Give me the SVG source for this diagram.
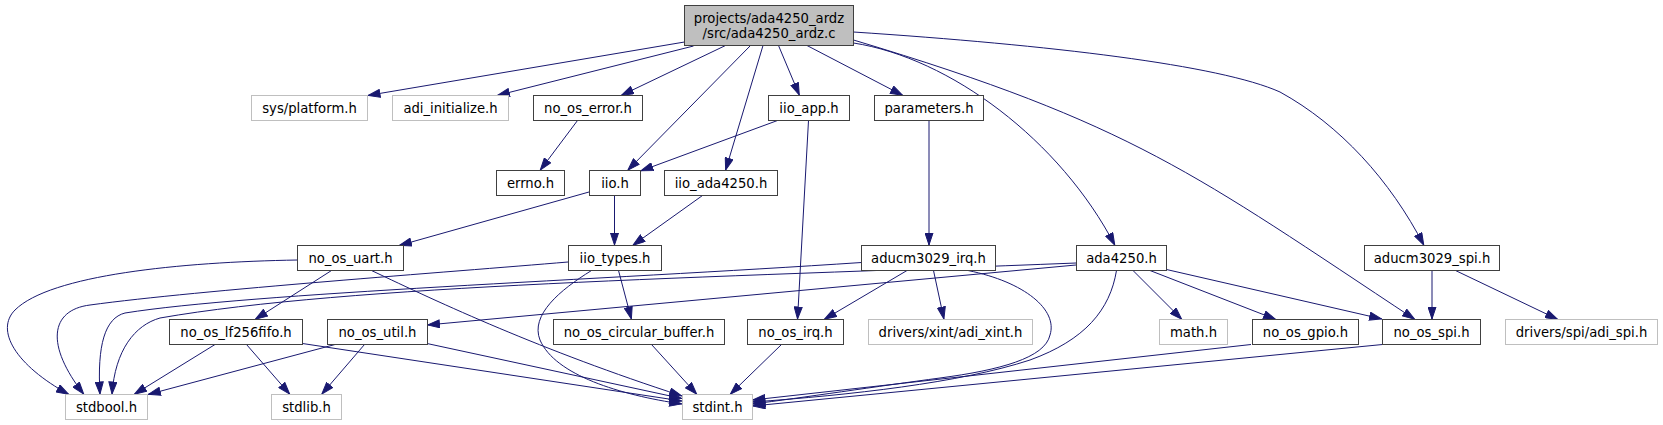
<svg xmlns="http://www.w3.org/2000/svg" width="1663" height="425" viewBox="0 0 1663 425">
<defs>
<style>
.n rect{fill:#ffffff;stroke:#404040;stroke-width:1}
.x rect{fill:#ffffff;stroke:#bfbfbf;stroke-width:1}
.m rect{fill:#bfbfbf;stroke:#404040;stroke-width:1}
text{font-family:"DejaVu Sans","Liberation Sans",sans-serif;font-size:13.2px;text-anchor:middle;fill:#000000}
#edges path{fill:none;stroke:#191970;stroke-width:1;marker-end:url(#ah)}
</style>
<marker id="ah" viewBox="0 0 13 9" refX="13" refY="4.5" markerWidth="13" markerHeight="9" markerUnits="userSpaceOnUse" orient="auto">
<path d="M0.5,0.5 L12.5,4.5 L0.5,8.5 z" fill="#191970" stroke="#191970" stroke-width="1"/>
</marker>
</defs>
<rect width="1663" height="425" fill="#ffffff"/>
<g id="edges">
<path d="M684.5,42 L367.5,95.5"/>
<path d="M693.5,46 L497,95.5"/>
<path d="M725.5,45.5 L621,95.5"/>
<path d="M750.5,45.5 L627.5,170.5"/>
<path d="M763,45.5 L725.5,170.5"/>
<path d="M778.5,45.5 L799.5,95.5"/>
<path d="M807,45.5 L903,95.5"/>
<path d="M853.5,43 C950,58 1060,140 1115,245.5"/>
<path d="M853.5,40 C1133.5,124 1195,174 1415,319.5"/>
<path d="M853.5,32 C1050,45 1220,65 1280,92 C1340,125 1390,180 1424,245.5"/>
<path d="M577.5,120.5 L540,170.5"/>
<path d="M777.5,120.5 L640.5,171"/>
<path d="M808.5,120.5 L797.5,319.5"/>
<path d="M929,120.5 L929,245.5"/>
<path d="M589,192 L399,245.5"/>
<path d="M614.5,195.5 L614.5,245.5"/>
<path d="M702.5,195.5 L632.5,245.5"/>
<path d="M297.5,260 C180,262 50,275 15,310 C-5,330 15,365 69,394.5"/>
<path d="M568,262 C450,272 200,290 90,305 C50,310 45,345 84,394.5"/>
<path d="M861.5,262.5 C600,280 250,293 125,313 C105,318 97,345 100,394.5"/>
<path d="M1076,263 C700,278 350,285 160,318 C135,325 115,350 112,394.5"/>
<path d="M1076,265 L427,325"/>
<path d="M331.5,270.5 L255,319.5"/>
<path d="M371.5,270.5 C440,303 540,350 682,396"/>
<path d="M302.5,343.5 L682,401"/>
<path d="M427,343.5 L682,398.5"/>
<path d="M591.5,270.5 C560,290 530,315 540,340 C555,375 620,395 682,404"/>
<path d="M968,270.5 C1025,282 1058,310 1050,335 C1045,358 1000,370 940,378 C880,386 800,398 752.5,404"/>
<path d="M1116.5,270.5 C1110,310 1085,340 1030,360 C960,383 850,395 752.5,402"/>
<path d="M1251,344.5 L752.5,400"/>
<path d="M1382.5,344.5 L752.5,406"/>
<path d="M651.5,344.5 L697,394.5"/>
<path d="M781.5,344.5 L730,394.5"/>
<path d="M215,344.5 L134,394.5"/>
<path d="M335,344.5 L148,394.5"/>
<path d="M364.5,344.5 L321.5,394.5"/>
<path d="M246.5,344.5 L290,394.5"/>
<path d="M618.5,270.5 L631.5,319.5"/>
<path d="M907,270.5 L824,319.5"/>
<path d="M933.5,270.5 L944,319.5"/>
<path d="M1133,270.5 L1182,319.5"/>
<path d="M1150,270.5 L1276,319.5"/>
<path d="M1166.5,269.5 L1382,319"/>
<path d="M1432,270.5 L1432,319.5"/>
<path d="M1455.5,270.5 L1558,319.5"/>
</g>
<g id="main" class="m"><rect x="684.5" y="5.5" width="169" height="40"/><text x="769" y="22.5">projects/ada4250_ardz</text><text x="769" y="37.5">/src/ada4250_ardz.c</text></g>
<g id="sys_platform" class="x"><rect x="251.5" y="95.5" width="116" height="25"/><text x="309.5" y="112.5">sys/platform.h</text></g>
<g id="adi_initialize" class="x"><rect x="392.5" y="95.5" width="116" height="25"/><text x="450.5" y="112.5">adi_initialize.h</text></g>
<g id="no_os_error" class="n"><rect x="533.5" y="95.5" width="109" height="25"/><text x="588" y="112.5">no_os_error.h</text></g>
<g id="iio_app" class="n"><rect x="768.5" y="95.5" width="81" height="25"/><text x="809" y="112.5">iio_app.h</text></g>
<g id="parameters" class="n"><rect x="874.5" y="95.5" width="109" height="25"/><text x="929" y="112.5">parameters.h</text></g>
<g id="errno" class="n"><rect x="496.5" y="170.5" width="68" height="25"/><text x="530.5" y="187.5">errno.h</text></g>
<g id="iio" class="n"><rect x="589.5" y="170.5" width="51" height="25"/><text x="615" y="187.5">iio.h</text></g>
<g id="iio_ada4250" class="n"><rect x="664.5" y="170.5" width="113" height="25"/><text x="721" y="187.5">iio_ada4250.h</text></g>
<g id="no_os_uart" class="n"><rect x="297.5" y="245.5" width="106" height="25"/><text x="350.5" y="262.5">no_os_uart.h</text></g>
<g id="iio_types" class="n"><rect x="568.5" y="245.5" width="93" height="25"/><text x="615" y="262.5">iio_types.h</text></g>
<g id="aducm3029_irq" class="n"><rect x="861.5" y="245.5" width="134" height="25"/><text x="928.5" y="262.5">aducm3029_irq.h</text></g>
<g id="ada4250" class="n"><rect x="1076.5" y="245.5" width="90" height="25"/><text x="1121.5" y="262.5">ada4250.h</text></g>
<g id="aducm3029_spi" class="n"><rect x="1364.5" y="245.5" width="135" height="25"/><text x="1432" y="262.5">aducm3029_spi.h</text></g>
<g id="no_os_lf256fifo" class="n"><rect x="169.5" y="319.5" width="133" height="25"/><text x="236" y="336.5">no_os_lf256fifo.h</text></g>
<g id="no_os_util" class="n"><rect x="327.5" y="319.5" width="100" height="25"/><text x="377.5" y="336.5">no_os_util.h</text></g>
<g id="no_os_circular_buffer" class="n"><rect x="553.5" y="319.5" width="171" height="25"/><text x="639" y="336.5">no_os_circular_buffer.h</text></g>
<g id="no_os_irq" class="n"><rect x="747.5" y="319.5" width="96" height="25"/><text x="795.5" y="336.5">no_os_irq.h</text></g>
<g id="adi_xint" class="x"><rect x="868.5" y="319.5" width="164" height="25"/><text x="950.5" y="336.5">drivers/xint/adi_xint.h</text></g>
<g id="math" class="x"><rect x="1159.5" y="319.5" width="68" height="25"/><text x="1193.5" y="336.5">math.h</text></g>
<g id="no_os_gpio" class="n"><rect x="1252.5" y="319.5" width="106" height="25"/><text x="1305.5" y="336.5">no_os_gpio.h</text></g>
<g id="no_os_spi" class="n"><rect x="1382.5" y="319.5" width="98" height="25"/><text x="1431.5" y="336.5">no_os_spi.h</text></g>
<g id="adi_spi" class="x"><rect x="1505.5" y="319.5" width="152" height="25"/><text x="1581.5" y="336.5">drivers/spi/adi_spi.h</text></g>
<g id="stdbool" class="x"><rect x="65.5" y="394.5" width="82" height="25"/><text x="106.5" y="411.5">stdbool.h</text></g>
<g id="stdlib" class="x"><rect x="271.5" y="394.5" width="70" height="25"/><text x="306.5" y="411.5">stdlib.h</text></g>
<g id="stdint" class="x"><rect x="682.5" y="394.5" width="70" height="25"/><text x="717.5" y="411.5">stdint.h</text></g>
</svg>
